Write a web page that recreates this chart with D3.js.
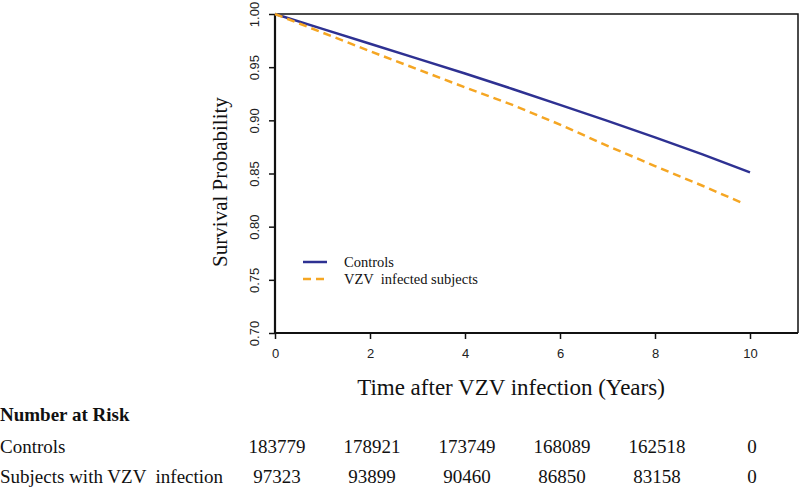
<!DOCTYPE html>
<html lang="en">
<head>
    <meta charset="UTF-8">
    <title>Survival after VZV infection</title>
    <script src="https://d3js.org/d3.v7.min.js"></script>
    <style>
        body { margin: 0; background: #fff; }
        .serif { font-family: "Liberation Serif", "Times New Roman", serif; fill: #111; }
        .tick text { font-family: "Liberation Sans", Arial, sans-serif; font-size: 13px; fill: #222; }
    </style>
</head>
<body>
    <div id="chart"></div>

    <script>
        // survival curves
        const controlTimes = [0, 1, 2, 3, 4, 5, 6, 7, 8, 9, 10];
        const controlSurvival = [1.0, 0.986, 0.972, 0.958, 0.944, 0.9295, 0.9145, 0.8995, 0.884, 0.868, 0.851];
        const vzvTimes = [0, 1, 2, 3, 4, 5, 6, 7, 8, 9, 9.85];
        const vzvSurvival = [1.0, 0.9825, 0.965, 0.948, 0.931, 0.9145, 0.896, 0.876, 0.857, 0.8385, 0.822];

        const xTicks = [0, 2, 4, 6, 8, 10];
        const yTicks = [0.70, 0.75, 0.80, 0.85, 0.90, 0.95, 1.00];

        const seriesNames = ["Controls", "VZV  infected subjects"];
        const riskLabels = ["Controls", "Subjects with VZV  infection"];
        const riskControls = [183779, 178921, 173749, 168089, 162518, 0];
        const riskVzv = [97323, 93899, 90460, 86850, 83158, 0];

        const width = 800, height = 488;
        const colors = ["#2e3192", "#f5a623"];

        const svg = d3.select("#chart").append("svg")
            .attr("width", width)
            .attr("height", height);

        const x = d3.scaleLinear().domain([0, 10]).range([275, 750]);
        const y = d3.scaleLinear().domain([0.70, 1.00]).range([333, 14]);

        const plotRight = 798;

        // axes
        svg.append("g")
            .attr("transform", "translate(0,333)")
            .call(d3.axisBottom(x).tickValues(xTicks).tickSize(6).tickPadding(10).tickFormat(d3.format("d")))
            .call(g => g.select(".domain").remove())
            .call(g => g.selectAll(".tick line").attr("stroke", "#111").attr("stroke-width", 1.5));

        svg.append("g")
            .attr("transform", "translate(275,0)")
            .call(d3.axisLeft(y).tickValues(yTicks).tickSize(6).tickFormat(d3.format(".2f")))
            .call(g => g.select(".domain").remove())
            .call(g => g.selectAll(".tick line").attr("stroke", "#111").attr("stroke-width", 1.5))
            .call(g => g.selectAll(".tick text")
                .attr("x", 0).attr("dy", 0)
                .attr("text-anchor", "middle")
                .attr("transform", "translate(-16,0) rotate(-90)"));

        // frame
        svg.append("path")
            .attr("d", `M275,14 H${plotRight} V333`)
            .attr("fill", "none")
            .attr("stroke", "#111")
            .attr("stroke-width", 1.5);
        svg.append("path")
            .attr("d", `M275,14 V333 H${plotRight}`)
            .attr("fill", "none")
            .attr("stroke", "#111")
            .attr("stroke-width", 2.2);

        // curves
        const line = d3.line().x(d => x(d[0])).y(d => y(d[1]));
        const controlPts = d3.zip(controlTimes, controlSurvival);
        const vzvPts = d3.zip(vzvTimes, vzvSurvival);

        svg.append("path")
            .datum(controlPts)
            .attr("d", line)
            .attr("fill", "none")
            .attr("stroke", colors[0])
            .attr("stroke-width", 2.5);

        svg.append("path")
            .datum(vzvPts)
            .attr("d", line)
            .attr("fill", "none")
            .attr("stroke", colors[1])
            .attr("stroke-width", 2.5)
            .attr("stroke-dasharray", "8,5");

        // legend
        seriesNames.forEach((name, i) => {
            const ly = 262 + i * 17;
            svg.append("line")
                .attr("x1", 303).attr("x2", 327)
                .attr("y1", ly).attr("y2", ly)
                .attr("stroke", colors[i])
                .attr("stroke-width", 2.5)
                .attr("stroke-dasharray", i === 1 ? "8,5" : null);
            svg.append("text")
                .attr("class", "serif")
                .attr("x", 344).attr("y", ly + 5)
                .style("font-size", "14.5px")
                .style("white-space", "pre")
                .text(name);
        });

        // axis titles
        svg.append("text")
            .attr("class", "serif")
            .attr("x", 511).attr("y", 395)
            .attr("text-anchor", "middle")
            .style("font-size", "23px")
            .text("Time after VZV infection (Years)");

        svg.append("text")
            .attr("class", "serif")
            .attr("transform", "translate(227,182) rotate(-90)")
            .attr("text-anchor", "middle")
            .style("font-size", "21px")
            .text("Survival Probability");

        // number at risk table
        svg.append("text")
            .attr("class", "serif")
            .attr("x", 0).attr("y", 421)
            .style("font-size", "19px")
            .style("font-weight", "bold")
            .text("Number at Risk");

        [riskControls, riskVzv].forEach((row, i) => {
            const ry = 453 + i * 30;
            svg.append("text")
                .attr("class", "serif")
                .attr("x", 0).attr("y", ry)
                .style("font-size", "19px")
                .style("white-space", "pre")
                .text(riskLabels[i]);
            svg.selectAll(null)
                .data(row)
                .enter().append("text")
                .attr("class", "serif")
                .attr("x", (d, j) => x(xTicks[j]) + 2)
                .attr("y", ry)
                .attr("text-anchor", "middle")
                .style("font-size", "19px")
                .text(d => d);
        });
    </script>
</body>
</html>
